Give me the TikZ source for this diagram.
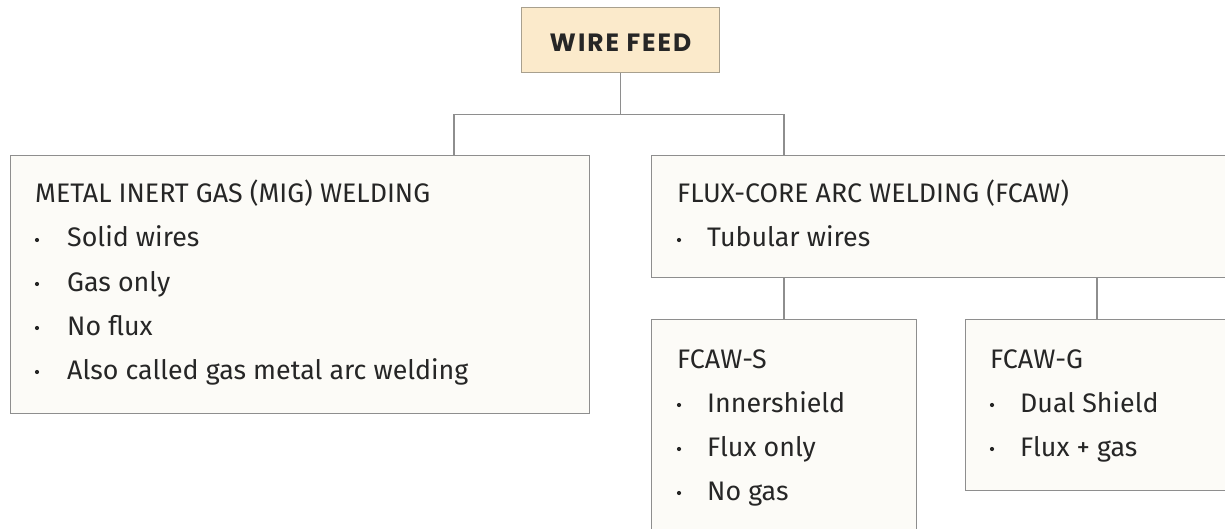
\documentclass[tikz,border=0pt]{standalone}
\usepackage{fontspec}
\setmainfont{Fira Sans}
\newfontfamily\titlefont[LetterSpace=8]{Poppins}
\definecolor{edge}{HTML}{8E8E8E}
\definecolor{paper}{HTML}{FCFBF7}
\definecolor{cream}{HTML}{FBEACB}
\definecolor{creamedge}{HTML}{A8A08E}
\definecolor{ink}{HTML}{262626}
\tikzset{
  panel/.style={draw=edge, fill=paper, line width=1.1pt, anchor=north west, inner sep=0pt},
  rootbox/.style={draw=creamedge, fill=cream, line width=1.1pt, anchor=north west, inner sep=0pt},
  heading/.style={anchor=base west, inner sep=0pt, text=ink, font=\fontsize{26.8}{30}\selectfont},
  item/.style={anchor=base west, inner sep=0pt, text=ink, font=\fontsize{26.8}{30}\selectfont},
  dot/.style={circle, fill=ink, inner sep=0pt, minimum size=4.2pt},
  link/.style={draw=edge, line width=1.1pt}
}
\begin{document}
\begin{tikzpicture}[x=1pt, y=-1pt]
\useasboundingbox (0,0) rectangle (1225,529);
\clip (0,0) rectangle (1225,529);
\fill[white] (0,0) rectangle (1225,529);

% boxes
\node[rootbox, minimum width=198, minimum height=65] (wf) at (521,7) {};
\node[text=ink, font=\titlefont\bfseries\fontsize{25}{28}\selectfont] (wft) at ([yshift=-3]wf.center) {WIRE FEED};
\node[panel, minimum width=579, minimum height=258] (mig) at (10,155) {};
\node[panel, minimum width=600, minimum height=122] (fcaw) at (651,155) {};
\node[panel, minimum width=265, minimum height=230] (fs) at (651,319) {};
\node[panel, minimum width=280, minimum height=171] (fg) at (965,319) {};

% connectors
\coordinate (cl) at (454,0);
\coordinate (cr) at (784,0);
\coordinate (cg) at (1097,0);
\draw[link] (wf.south) -- ++(0,41) coordinate (hub);
\draw[link] (mig.north -| cl) |- (hub) -| (fcaw.north -| cr);
\draw[link] (fcaw.south -| cr) -- (fs.north -| cr);
\draw[link] (fcaw.south -| cg) -- (fg.north -| cg);

% MIG
\node[heading] (mh) at (35,203) {METAL INERT GAS (MIG) WELDING};
\node[dot] (m1d) at (37,240) {};
\node[item] (m1) at (67,247) {Solid wires};
\node[dot] (m2d) at (37,284) {};
\node[item] (m2) at (67,291) {Gas only};
\node[dot] (m3d) at (37,328) {};
\node[item] (m3) at (67,335) {No flux};
\node[dot] (m4d) at (37,372) {};
\node[item] (m4) at (67,379) {Also called gas metal arc welding};

% FCAW
\node[heading] (fh) at (677,203) {FLUX-CORE ARC WELDING (FCAW)};
\node[dot] (f1d) at (679,240) {};
\node[item] (f1) at (707,247) {Tubular wires};

% FCAW-S
\node[heading] (sh) at (677,368) {FCAW-S};
\node[dot] (s1d) at (679,405) {};
\node[item] (s1) at (707,412) {Innershield};
\node[dot] (s2d) at (679,449) {};
\node[item] (s2) at (707,456) {Flux only};
\node[dot] (s3d) at (679,493) {};
\node[item] (s3) at (707,500) {No gas};

% FCAW-G
\node[heading] (gh) at (990,368) {FCAW-G};
\node[dot] (g1d) at (992,405) {};
\node[item] (g1) at (1020,412) {Dual Shield};
\node[dot] (g2d) at (992,449) {};
\node[item] (g2) at (1020,456) {Flux + gas};
\end{tikzpicture}
\end{document}
